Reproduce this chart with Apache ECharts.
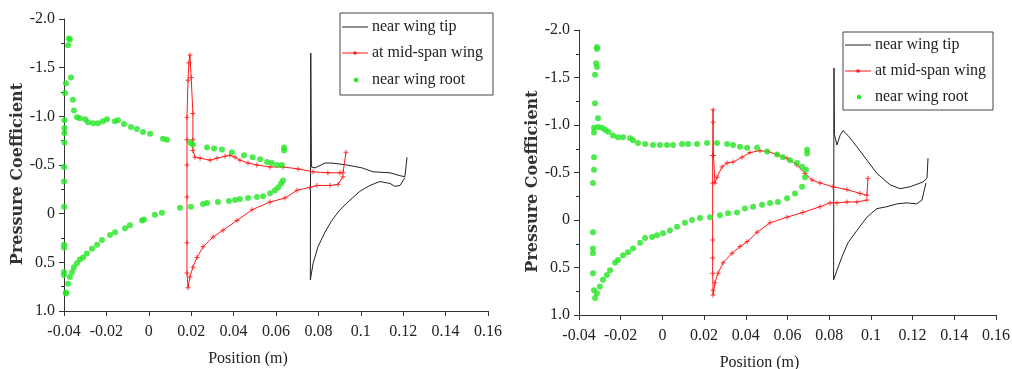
<!DOCTYPE html>
<html>
<head>
<meta charset="utf-8">
<script src="https://cdn.jsdelivr.net/npm/echarts@6/dist/echarts.min.js"></script>
<style>html,body{margin:0;padding:0;background:#fff;}#c{width:1012px;height:369px;}</style>
</head>
<body>
<div id="c"></div>
<script>
// ---------- data (x = position in m, y = pressure coefficient) ----------
const xTicks = { min: -0.04, max: 0.16, step: 0.02 };
const yTicks = { min: -2.0, max: 1.0, step: 0.5 };
const seriesNames = ['near wing tip', 'at mid-span wing', 'near wing root'];

// Left panel
const tipLeft = [
  [0.1218,-0.58],[0.1208,-0.38],[0.1185,-0.39],[0.1138,-0.42],[0.1058,-0.43],[0.1006,-0.47],[0.0935,-0.50],
  [0.0864,-0.52],[0.0831,-0.52],[0.0784,-0.47],[0.0767,-0.48],[0.0764,-1.65],[0.0762,0.68],[0.0775,0.51],
  [0.0798,0.34],[0.0831,0.19],[0.0863,0.07],[0.0902,-0.04],[0.0949,-0.14],[0.0996,-0.23],[0.1043,-0.29],
  [0.1090,-0.33],[0.1138,-0.31],[0.1161,-0.28],[0.1185,-0.29],[0.1208,-0.37]
];
const midLeft = [
  [0.0930,-0.63],[0.0916,-0.42],[0.0902,-0.42],[0.0845,-0.42],[0.0775,-0.43],[0.0704,-0.46],[0.0633,-0.48],
  [0.0572,-0.48],[0.0510,-0.50],[0.0468,-0.52],[0.0430,-0.55],[0.0407,-0.58],[0.0383,-0.60],[0.0360,-0.59],
  [0.0322,-0.57],[0.0289,-0.55],[0.0242,-0.57],[0.0218,-0.58],[0.0208,-0.65],[0.0208,-0.76],[0.0208,-1.03],
  [0.0200,-1.40],[0.0194,-1.63],[0.0189,-1.55],[0.0185,-1.37],[0.0180,-0.99],[0.0180,-0.76],[0.0180,-0.50],
  [0.0180,-0.17],[0.0180,0.30],[0.0180,0.61],[0.0185,0.76],[0.0194,0.65],[0.0208,0.55],[0.0227,0.45],
  [0.0256,0.34],[0.0303,0.24],[0.0350,0.17],[0.0416,0.07],[0.0487,-0.04],[0.0572,-0.12],[0.0642,-0.16],
  [0.0699,-0.24],[0.0760,-0.27],[0.0793,-0.29],[0.0855,-0.29],[0.0892,-0.30],[0.0916,-0.38]
];
const rootLeft = [
  [-0.0377,-1.80],[-0.0372,-1.79],[-0.0381,-1.73],[-0.0367,-1.40],[-0.0391,-1.34],[-0.0395,-1.24],[-0.0358,-1.17],
  [-0.0353,-1.06],[-0.0398,-0.96],[-0.0398,-0.88],[-0.0398,-0.83],[-0.0398,-0.73],[-0.0400,-0.48],[-0.0400,-0.33],
  [-0.0400,-0.07],[-0.0400,0.32],[-0.0400,0.35],[-0.0400,0.60],[-0.0400,0.63],[-0.0391,0.81],[-0.0391,0.82],
  [-0.0339,-0.99],[-0.0325,-0.98],[-0.0300,-0.97],[-0.0287,-0.94],[-0.0263,-0.93],[-0.0240,-0.93],[-0.0216,-0.95],
  [-0.0197,-0.97],[-0.0160,-0.95],[-0.0145,-0.96],[-0.0117,-0.92],[-0.0084,-0.89],[-0.0056,-0.87],[-0.0027,-0.84],
  [0.0006,-0.82],[0.0067,-0.77],[0.0086,-0.76],[0.0194,-0.73],[0.0208,-0.71],[0.0275,-0.68],[0.0308,-0.67],
  [0.0345,-0.66],[0.0392,-0.63],[0.0449,-0.60],[0.0490,-0.58],[0.0525,-0.56],[0.0558,-0.53],[0.0580,-0.52],
  [0.0605,-0.50],[0.0628,-0.50],[0.0638,-0.68],[0.0638,-0.65],
  [-0.0381,0.72],[-0.0372,0.65],[-0.0362,0.60],[-0.0353,0.55],[-0.0339,0.51],[-0.0325,0.47],[-0.0310,0.45],
  [-0.0292,0.41],[-0.0268,0.36],[-0.0244,0.32],[-0.0221,0.27],[-0.0183,0.22],[-0.0159,0.19],[-0.0112,0.15],
  [-0.0089,0.12],[-0.0032,0.07],[-0.0023,0.06],[0.0029,0.01],[0.0062,-0.01],[0.0147,-0.06],[0.0199,-0.07],
  [0.0256,-0.10],[0.0275,-0.11],[0.0326,-0.12],[0.0378,-0.13],[0.0407,-0.14],[0.0430,-0.15],[0.0468,-0.16],
  [0.0510,-0.17],[0.0539,-0.18],[0.0572,-0.21],[0.0595,-0.24],[0.0610,-0.27],[0.0624,-0.31],[0.0633,-0.34]
];

// Right panel
const tipRight = [
  [0.1274,-0.65],[0.1269,-0.44],[0.1250,-0.40],[0.1188,-0.35],[0.1140,-0.33],[0.1092,-0.37],[0.1029,-0.49],
  [0.0981,-0.63],[0.0933,-0.77],[0.0890,-0.89],[0.0866,-0.94],[0.0852,-0.89],[0.0837,-0.79],[0.0825,-0.90],
  [0.0823,-1.60],[0.0821,0.63],[0.0837,0.53],[0.0861,0.39],[0.0890,0.24],[0.0933,0.11],[0.0981,-0.03],
  [0.1029,-0.12],[0.1077,-0.14],[0.1125,-0.17],[0.1173,-0.18],[0.1220,-0.17],[0.1245,-0.21],[0.1264,-0.39]
];
const midRight = [
  [0.0986,-0.44],[0.0981,-0.26],[0.0948,-0.28],[0.0885,-0.32],[0.0818,-0.35],[0.0756,-0.39],[0.0718,-0.42],
  [0.0684,-0.49],[0.0645,-0.58],[0.0598,-0.65],[0.0550,-0.69],[0.0506,-0.72],[0.0468,-0.73],[0.0420,-0.71],
  [0.0382,-0.66],[0.0339,-0.61],[0.0310,-0.60],[0.0286,-0.56],[0.0262,-0.45],[0.0252,-0.39],[0.0245,-0.68],
  [0.0243,-1.03],[0.0243,-1.16],[0.0241,-0.68],[0.0241,-0.39],[0.0241,0.21],[0.0241,0.40],[0.0241,0.56],
  [0.0243,0.74],[0.0243,0.79],[0.0252,0.66],[0.0267,0.56],[0.0291,0.45],[0.0334,0.35],[0.0372,0.28],
  [0.0406,0.23],[0.0454,0.13],[0.0516,0.03],[0.0598,-0.03],[0.0674,-0.08],[0.0756,-0.14],[0.0804,-0.18],
  [0.0837,-0.18],[0.0885,-0.19],[0.0933,-0.19],[0.0981,-0.21]
];
const rootRight = [
  [-0.0314,-1.82],[-0.0314,-1.80],[-0.0318,-1.65],[-0.0314,-1.61],[-0.0323,-1.53],[-0.0323,-1.23],[-0.0309,-1.07],
  [-0.0328,-0.97],[-0.0328,-0.92],[-0.0328,-0.66],[-0.0328,-0.53],[-0.0333,-0.39],[-0.0333,0.13],[-0.0333,0.30],
  [-0.0333,0.35],[-0.0333,0.56],[-0.0328,0.74],[-0.0323,0.82],
  [-0.0309,-0.98],[-0.0290,-0.97],[-0.0275,-0.95],[-0.0260,-0.93],[-0.0237,-0.89],[-0.0213,-0.87],[-0.0189,-0.87],
  [-0.0155,-0.86],[-0.0141,-0.84],[-0.0117,-0.81],[-0.0083,-0.80],[-0.0045,-0.79],[-0.0012,-0.79],[0.0022,-0.79],
  [0.0051,-0.79],[0.0094,-0.80],[0.0123,-0.80],[0.0166,-0.80],[0.0214,-0.81],[0.0262,-0.81],[0.0310,-0.80],
  [0.0339,-0.79],[0.0372,-0.77],[0.0406,-0.76],[0.0454,-0.76],[0.0502,-0.72],[0.0550,-0.69],[0.0578,-0.66],
  [0.0612,-0.63],[0.0645,-0.60],[0.0670,-0.56],[0.0689,-0.53],[0.0694,-0.74],[0.0694,-0.70],
  [0.0684,-0.45],[0.0670,-0.35],[0.0636,-0.28],[0.0598,-0.23],[0.0554,-0.19],[0.0516,-0.18],[0.0478,-0.16],
  [0.0435,-0.14],[0.0396,-0.12],[0.0358,-0.08],[0.0315,-0.07],[0.0276,-0.05],[0.0228,-0.03],[0.0180,-0.02],
  [0.0142,0.00],[0.0108,0.03],[0.0070,0.07],[0.0036,0.11],[0.0003,0.14],[-0.0026,0.16],[-0.0050,0.18],
  [-0.0083,0.19],[-0.0107,0.24],[-0.0141,0.30],[-0.0165,0.34],[-0.0189,0.37],[-0.0213,0.42],[-0.0227,0.45],
  [-0.0251,0.53],[-0.0266,0.58],[-0.0285,0.63],[-0.0300,0.70],[-0.0314,0.77]
];

// ---------- chart ----------
const SERIF = '"Liberation Serif", "DejaVu Serif", serif';
const TIP_COLOR = '#222222';
const MID_COLOR = '#ff1a1a';
const ROOT_COLOR = '#22e622';
const PLUS = 'path://M4,0h2v4h4v2h-4v4h-2v-4h-4v-2h4z';

function xAxisCfg(gridIndex) {
  return {
    type: 'value', gridIndex,
    min: xTicks.min, max: xTicks.max, interval: xTicks.step,
    name: 'Position (m)', nameLocation: 'middle', nameGap: 40,
    nameTextStyle: { fontFamily: SERIF, fontSize: 16, color: '#222', padding: [0, 56, 0, 0] },
    axisLine: { show: true, onZero: false, lineStyle: { color: '#333', width: 1 } },
    axisTick: { show: true, inside: false, length: 5, lineStyle: { color: '#333' } },
    axisLabel: { fontFamily: SERIF, fontSize: 16, color: '#222', margin: 13,
      formatter: v => String(parseFloat(v.toFixed(2))) },
    splitLine: { show: false }
  };
}
function yAxisCfg(gridIndex) {
  return {
    type: 'value', gridIndex, inverse: true,
    min: yTicks.min, max: yTicks.max, interval: yTicks.step,
    name: 'Pressure Coefficient', nameLocation: 'middle', nameGap: 38,
    nameTextStyle: { fontFamily: '"DejaVu Serif", serif', fontWeight: 'bold', fontSize: 16, color: '#333', padding: [0, 18, 0, 0] },
    axisLine: { show: true, onZero: false, lineStyle: { color: '#333', width: 1 } },
    axisTick: { show: true, inside: false, length: 5, lineStyle: { color: '#333' } },
    minorTick: { show: true, splitNumber: 2, length: 3, lineStyle: { color: '#333' } },
    axisLabel: { fontFamily: SERIF, fontSize: 16, color: '#222', margin: 9,
      formatter: v => (Math.abs(v) < 1e-9 ? '0' : v.toFixed(1)) },
    splitLine: { show: false }
  };
}
function tipSeries(data, i) {
  return { name: seriesNames[0], type: 'line', xAxisIndex: i, yAxisIndex: i, data,
    symbol: 'none', lineStyle: { color: TIP_COLOR, width: 1 }, itemStyle: { color: TIP_COLOR }, z: 2 };
}
function midSeries(data, i) {
  return { name: seriesNames[1], type: 'line', xAxisIndex: i, yAxisIndex: i, data,
    symbol: PLUS, symbolSize: 5, showSymbol: true,
    lineStyle: { color: MID_COLOR, width: 1 }, itemStyle: { color: MID_COLOR, opacity: 0.85 }, z: 3 };
}
function rootSeries(data, i) {
  return { name: seriesNames[2], type: 'scatter', xAxisIndex: i, yAxisIndex: i, data,
    symbol: 'circle', symbolSize: 6, itemStyle: { color: ROOT_COLOR }, z: 4 };
}
function legendBox(x, y, w, h, rows) {
  const els = [{ type: 'rect', shape: { x, y, width: w, height: h },
    style: { fill: '#fff', stroke: '#444', lineWidth: 1 }, z: 10 }];
  const lx0 = x + 2, lx1 = x + 28, tx = x + 32;
  const font = '16px ' + SERIF;
  els.push({ type: 'line', shape: { x1: lx0, y1: rows[0], x2: lx1, y2: rows[0] }, style: { stroke: TIP_COLOR, lineWidth: 1 }, z: 11 });
  els.push({ type: 'line', shape: { x1: lx0, y1: rows[1], x2: lx1, y2: rows[1] }, style: { stroke: MID_COLOR, lineWidth: 1 }, z: 11 });
  els.push({ type: 'rect', shape: { x: (lx0 + lx1) / 2 - 1.5, y: rows[1] - 1.5, width: 3, height: 3 }, style: { fill: MID_COLOR }, z: 11 });
  els.push({ type: 'circle', shape: { cx: (lx0 + lx1) / 2 + 1, cy: rows[2], r: 2.2 }, style: { fill: ROOT_COLOR }, z: 11 });
  seriesNames.forEach((n, k) => els.push({ type: 'text', x: tx, y: rows[k],
    style: { text: n, font, fill: '#222', verticalAlign: 'middle', align: 'left' }, z: 11 }));
  return els;
}

const chart = echarts.init(document.getElementById('c'), null, { renderer: 'canvas' });
chart.setOption({
  animation: false,
  backgroundColor: '#ffffff',
  grid: [
    { left: 64, top: 19, width: 424, height: 292, containLabel: false, outerBoundsMode: 'none' },
    { left: 579, top: 30, width: 417, height: 285, containLabel: false, outerBoundsMode: 'none' }
  ],
  xAxis: [xAxisCfg(0), xAxisCfg(1)],
  yAxis: [yAxisCfg(0), yAxisCfg(1)],
  series: [
    tipSeries(tipLeft, 0), midSeries(midLeft, 0), rootSeries(rootLeft, 0),
    tipSeries(tipRight, 1), midSeries(midRight, 1), rootSeries(rootRight, 1)
  ],
  graphic: [
    ...legendBox(340, 13, 153, 82, [27, 53, 80]),
    ...legendBox(843, 32, 150, 78, [45, 71, 97])
  ]
});
</script>
</body>
</html>
